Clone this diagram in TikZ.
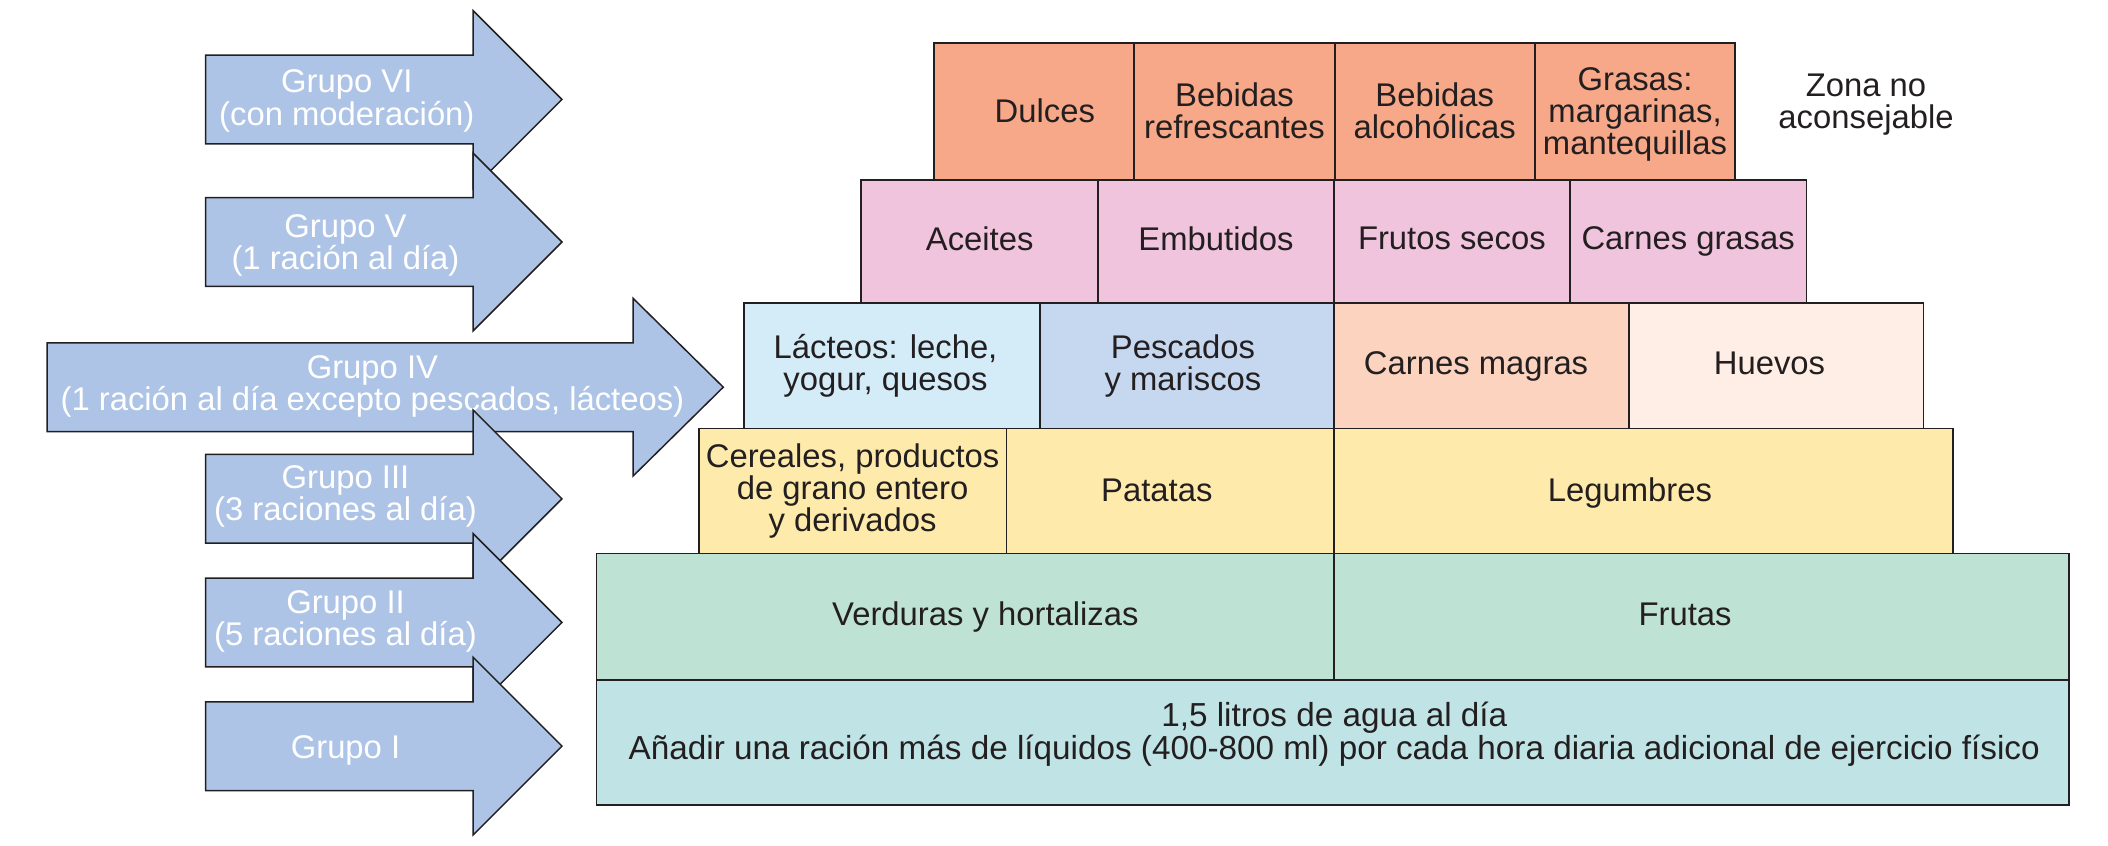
\documentclass[tikz,border=0pt]{standalone}
\usepackage{fontspec}
\setmainfont{Liberation Sans}
\definecolor{txt}{HTML}{231F20}
\definecolor{arr}{HTML}{AEC4E6}
\definecolor{corange}{HTML}{F6A888}
\definecolor{cpink}{HTML}{F1C4DE}
\definecolor{clact}{HTML}{D3ECF8}
\definecolor{cpesc}{HTML}{C6D8EF}
\definecolor{cmagra}{HTML}{FBD3BE}
\definecolor{chuevo}{HTML}{FEEEE5}
\definecolor{cyel}{HTML}{FEEBAB}
\definecolor{cgreen}{HTML}{BEE2D3}
\definecolor{ccyan}{HTML}{C0E3E5}
\newcommand\fs{\fontsize{24.4}{24}\selectfont}
\newcommand\topstr{\rule{0pt}{17.5pt}}
\newcommand\botstr{\rule[-5.1pt]{0pt}{0pt}}
\newcommand\hitop{\rule{0pt}{21.5pt}}
\newcommand\grparrow[4]{% left x, head base x, tip x, centre y
  \draw[arrowsty] (#1,#4-33) -- (#2,#4-33) -- (#2,#4-66) -- (#3,#4) -- (#2,#4+66) -- (#2,#4+33) -- (#1,#4+33) -- cycle;}
\begin{document}
\begin{tikzpicture}[x=1pt,y=-1pt,
  cell/.style={draw=txt, line width=1.4pt, align=center, inner sep=0pt, font=\fs, text=txt, anchor=north west,
    execute at begin node=\topstr, execute at end node=\botstr},
  arrowsty/.style={fill=arr, draw=txt, line width=1.1pt, line join=miter},
  grp/.style={align=center, font=\fs, text=white, inner sep=0pt},
  plain/.style={align=center, font=\fs, text=txt, inner sep=0pt}]
\useasboundingbox (0,0) rectangle (1568,629);

% arrows (top to bottom, later ones on top)
\grparrow{153}{352}{418}{74}
\node[grp] (g6) at (258,75) {Grupo VI\\(con moderación)};
\grparrow{153}{352}{418}{180}
\node[grp] (g5) at (257,182.5) {Grupo V\\(1 ración al día)};
\grparrow{35}{471}{538}{288}
\node[grp] (g4) at (277,287.5) {Grupo IV\\(1 ración al día excepto pescados, lácteos)};
\grparrow{153}{352}{418}{371}
\node[grp] (g3) at (257,369.5) {Grupo III\\(3 raciones al día)};
\grparrow{153}{352}{418}{463}
\node[grp] (g2) at (257,462) {Grupo II\\(5 raciones al día)};
\grparrow{153}{352}{418}{555}
\node[grp] (g1) at (257,558) {Grupo I};

% row 1
\node[cell, fill=corange, minimum width=149pt, minimum height=102pt] (dulces) at (694,31) {\hitop\hspace*{16pt}Dulces};
\node[cell, fill=corange, minimum width=149pt, minimum height=102pt] (refr) at (843,31) {\hitop Bebidas\\refrescantes};
\node[cell, fill=corange, minimum width=149pt, minimum height=102pt] (alco) at (992,31) {\hitop Bebidas\\alcohólicas};
\node[cell, fill=corange, minimum width=149pt, minimum height=102pt] (grasas) at (1141,31) {\rule{0pt}{22pt}Grasas:\\margarinas,\\mantequillas};
\node[plain] (zona) at (1388,78) {Zona no\\aconsejable};

% row 2
\node[cell, fill=cpink, minimum width=176pt, minimum height=92pt] (aceites) at (640,133) {Aceites};
\node[cell, fill=cpink, minimum width=175.5pt, minimum height=92pt] (embut) at (816,133) {Embutidos};
\node[cell, fill=cpink, minimum width=175.5pt, minimum height=92pt] (frutos) at (991.5,133) {Frutos secos};
\node[cell, fill=cpink, minimum width=176pt, minimum height=92pt] (cgrasas) at (1167,133) {Carnes grasas};

% row 3
\node[cell, fill=clact, minimum width=220pt, minimum height=93pt] (lact) at (553,225) {Lácteos: leche,\hspace*{10pt}\\yogur, quesos\hspace*{10pt}};
\node[cell, fill=cpesc, minimum width=218.5pt, minimum height=93pt] (pesc) at (773,225) {Pescados\hspace*{6pt}\\y mariscos\hspace*{6pt}};
\node[cell, fill=cmagra, minimum width=219.5pt, minimum height=93pt] (magras) at (991.5,225) {Carnes magras\hspace*{8pt}};
\node[cell, fill=chuevo, minimum width=219pt, minimum height=93pt] (huevos) at (1211,225) {Huevos\hspace*{10pt}};

% row 4
\node[cell, fill=cyel, minimum width=229pt, minimum height=93pt] (cereal) at (519,318) {Cereales, productos\\de grano entero\\y derivados};
\node[cell, fill=cyel, minimum width=243.5pt, minimum height=93pt] (patatas) at (748,318) {\rule{0pt}{21pt}Patatas\hspace*{20pt}};
\node[cell, fill=cyel, minimum width=460.5pt, minimum height=93pt] (legum) at (991.5,318) {\rule{0pt}{21pt}Legumbres\hspace*{20pt}};

% row 5
\node[cell, fill=cgreen, minimum width=548.5pt, minimum height=94pt] (verd) at (443,411) {\hspace*{30pt}Verduras y hortalizas};
\node[cell, fill=cgreen, minimum width=546.5pt, minimum height=94pt] (frutas) at (991.5,411) {Frutas\hspace*{24pt}};

% row 6
\node[cell, fill=ccyan, minimum width=1095pt, minimum height=93pt] (agua) at (443,505) {};
\node[plain, font=\fontsize{24.75}{24.5}\selectfont] (aguatxt) at (992.5,546) {1,5 litros de agua al día\\Añadir una ración más de líquidos (400-800 ml) por cada hora diaria adicional de ejercicio físico};
\end{tikzpicture}
\end{document}
